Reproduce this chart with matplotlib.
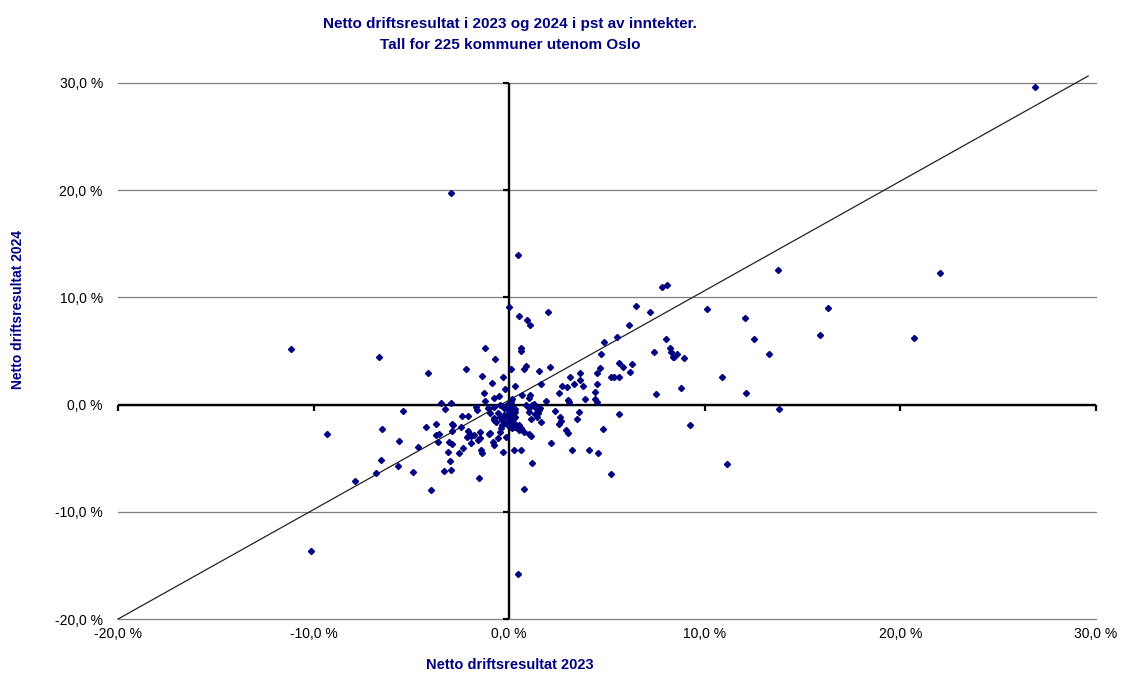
import matplotlib.pyplot as plt
from matplotlib.ticker import FuncFormatter

plt.rcParams['font.family'] = ['Liberation Sans', 'DejaVu Sans']

navy = '#000080'

# netto driftsresultat i pst av inntekter, 2023 (x) og 2024 (y)
res2023 = [26.9, -2.97, 0.43, 13.75, 22.0, 7.8, 8.05, -0.03, 0.5, 2.0,
           0.9, 1.04, 6.5, 7.2, 10.1, 12.05, 16.3, 6.1, 4.86, 5.5,
           8.0, 12.5, 15.9, 20.7, 7.4, 8.23, 8.28, 8.35, 8.44, 8.57,
           8.96, 13.26, 4.7, 0.58, 0.6, -0.34, 0.07, 0.78, 0.87, 1.5,
           2.1, -0.22, 0.3, 0.65, 1.04, 1.0, 1.62, 2.57, 2.69, 2.95,
           3.12, 3.29, 3.63, 3.63, 3.78, 3.03, 3.05, 3.85, 4.48, 4.48,
           4.41, 4.38, 4.48, 4.65, 5.21, 5.35, 5.62, 5.62, 5.81, 6.17,
           6.3, 5.59, 4.79, 9.24, 10.9, 8.76, 7.48, 12.1, 13.77, 1.86,
           2.34, 2.6, 2.57, 2.66, 2.9, 3.03, 3.58, 3.49, 1.62, 1.11,
           11.15, 5.18, 2.16, 3.19, 4.1, 4.52, 0.6, 0.26, 1.18, 0.73,
           -0.32, -0.17, 0.43, -10.12, 0.87, 1.29, 1.36, 1.5, 1.58, 1.47,
           1.41, 1.12, 1.0, 1.31, 0.48, 0.6, 0.73, 0.99, 0.31,
           -11.16, -6.65, -4.14, -2.21, -1.26, -0.72, -1.4, -0.9, -1.28, -1.23,
           -0.77, -0.53, -3.51, -3.0, -3.27, -5.43, -2.4, -2.1, -1.65, -1.69,
           -1.06, -9.3, -6.49, -4.26, -3.75, -3.75, -3.61, -2.93, -2.85, -2.95,
           -2.49, -3.66, -3.1, -2.93, -2.13, -2.03, -1.94, -2.16, -1.82, -1.51,
           -1.51, -1.61, -1.04, -0.99, -2.34, -2.56, -1.94, -1.43, -1.4, -5.66,
           -4.67, -6.56, -5.71, -4.9, -6.8, -7.86, -4.0, -3.31, -2.97, -3.05,
           -3.15, -1.55, -0.83, -0.8, -0.55, -0.46, -0.42,
           -0.55, -0.46, -0.37, -0.29, -0.12, 0.05, 0.14, 0.22, -0.2, -0.04,
           0.14, -0.77, -0.66, -0.8, -0.46, -0.29, -0.12, -0.04, 0.14, 0.3,
           0.99, 1.16, 0.27, 0.12, 0.27, 0.22, 0.35, 0.48, 0.51, 0.12,
           0.02, -0.02, -0.08, -0.1, 0.1, 0.15, -0.97, -0.8, -0.37]
res2024 = [29.6, 19.7, 14.0, 12.6, 12.3, 11.0, 11.2, 9.1, 8.3, 8.6,
           7.9, 7.45, 9.2, 8.6, 8.9, 8.1, 9.0, 7.4, 5.84, 6.3,
           6.15, 6.15, 6.5, 6.2, 4.9, 5.25, 4.93, 4.47, 4.41, 4.69,
           4.32, 4.72, 4.7, 5.28, 4.97, 2.6, 3.32, 3.29, 3.6, 3.16,
           3.48, 1.5, 1.78, 0.87, 0.87, 0.65, 1.92, 1.11, 1.73, 1.64,
           2.55, 1.92, 2.98, 2.29, 1.77, 0.43, 0.2, 0.55, 2.98, 1.92,
           1.18, 0.55, 0.24, 3.44, 2.55, 2.55, 2.57, 3.85, 3.53, 3.01,
           3.79, -0.85, -2.25, -1.9, 2.6, 1.58, 1.02, 1.05, -0.41, 0.37,
           -0.57, -1.13, -1.8, -1.5, -2.37, -2.68, -0.66, -1.37, -1.6, -2.9,
           -5.57, -6.5, -3.55, -4.24, -4.24, -4.55, -4.24, -4.27, -5.48, -7.9,
           -4.45, -3.0, -15.77, -13.7, -0.07, 0.08, -0.29, -0.5, -0.35, -0.75,
           -1.19, -1.31, -0.69, -0.88, -1.9, -2.21, -2.53, -2.77, -2.06,
           5.16, 4.41, 2.92, 3.32, 5.31, 4.23, 2.67, 2.04, 1.05, 0.37,
           0.59, 0.83, 0.12, 0.18, -0.38, -0.6, -1.03, -1.06, -0.5, -0.2,
           -0.35, -2.74, -2.3, -2.06, -1.84, -2.87, -2.77, -1.84, -1.9, -2.46,
           -2.06, -3.5, -3.46, -3.68, -2.46, -2.74, -2.93, -3.0, -2.84, -2.6,
           -3.14, -3.3, -2.74, -2.68, -4.08, -4.49, -3.61, -4.24, -4.55, -3.4,
           -3.99, -5.17, -5.73, -6.29, -6.35, -7.13, -7.97, -6.17, -6.13, -5.23,
           -4.39, -6.82, -3.46, -3.77, -3.15, -2.52, -2.21,
           -0.81, -1.13, -1.44, -0.97, -1.13, -1.6, -0.81, -1.28, -1.74, -1.9,
           -2.21, -1.44, -1.6, -0.2, -0.04, -0.35, -0.04, -0.5, -0.2, -0.45,
           -0.35, -0.04, -0.66, -1.03, -1.19, -1.75, -2.06, -1.97, -2.37, -1.44,
           -2.06, -0.66, -1.1, -0.3, 0.27, 0.52, -0.81, -1.28, -1.9]

ticks = [-20, -10, 0, 10, 20, 30]
diag_x = [-20, 29.6]
diag_y = [-20, 30.65]

fig = plt.figure(figsize=(11.21, 6.73), dpi=100)
ax = fig.add_axes([0.1053, 0.0802, 0.8724, 0.7965])

ax.set_xlim(-20, 30)
ax.set_ylim(-20, 30)
for s in ax.spines.values():
    s.set_visible(False)

ax.set_xticks(ticks)
ax.set_yticks(ticks)
fmt = FuncFormatter(lambda v, p: f"{v:.1f} %".replace('.', ','))
ax.xaxis.set_major_formatter(fmt)
ax.yaxis.set_major_formatter(fmt)
ax.tick_params(axis='both', length=0, labelsize=10)
ax.tick_params(axis='y', pad=11)
ax.tick_params(axis='x', pad=6)

ax.yaxis.grid(True, color='#808080', lw=0.9)
for gl in ax.get_ygridlines():
    gl.set_clip_on(False)
ax.set_axisbelow(True)

# akser gjennom null
ax.axhline(0, color='black', lw=1.7, zorder=2)
ax.axvline(0, color='black', lw=1.7, zorder=2)
nz = [t for t in ticks if t != 0]
ax.plot(nz, [0] * len(nz), ls='none', marker=3, ms=4, mew=1.6,
        color='black', zorder=2, clip_on=False)
ax.plot([0] * len(nz), nz, ls='none', marker=0, ms=4, mew=1.6,
        color='black', zorder=2, clip_on=False)

ax.plot(diag_x, diag_y, color='#222222', lw=0.9, zorder=3, clip_on=False)

ax.plot(res2023, res2024, ls='none', marker='D', ms=3.1, color=navy,
        mec=navy, zorder=4)

fig.text(0.455, 0.965, 'Netto driftsresultat i 2023 og 2024 i pst av inntekter.',
         ha='center', va='center', fontsize=11, fontweight='bold', color=navy)
fig.text(0.455, 0.933, 'Tall for 225 kommuner utenom Oslo',
         ha='center', va='center', fontsize=11, fontweight='bold', color=navy)
fig.text(0.455, 0.012, 'Netto driftsresultat 2023', ha='center', va='center',
         fontsize=10.5, fontweight='bold', color=navy)
fig.text(0.016, 0.54, 'Netto driftsresultat 2024', ha='center', va='center',
         rotation=90, fontsize=10, fontweight='bold', color=navy)

fig.savefig('out.png', dpi=100)
